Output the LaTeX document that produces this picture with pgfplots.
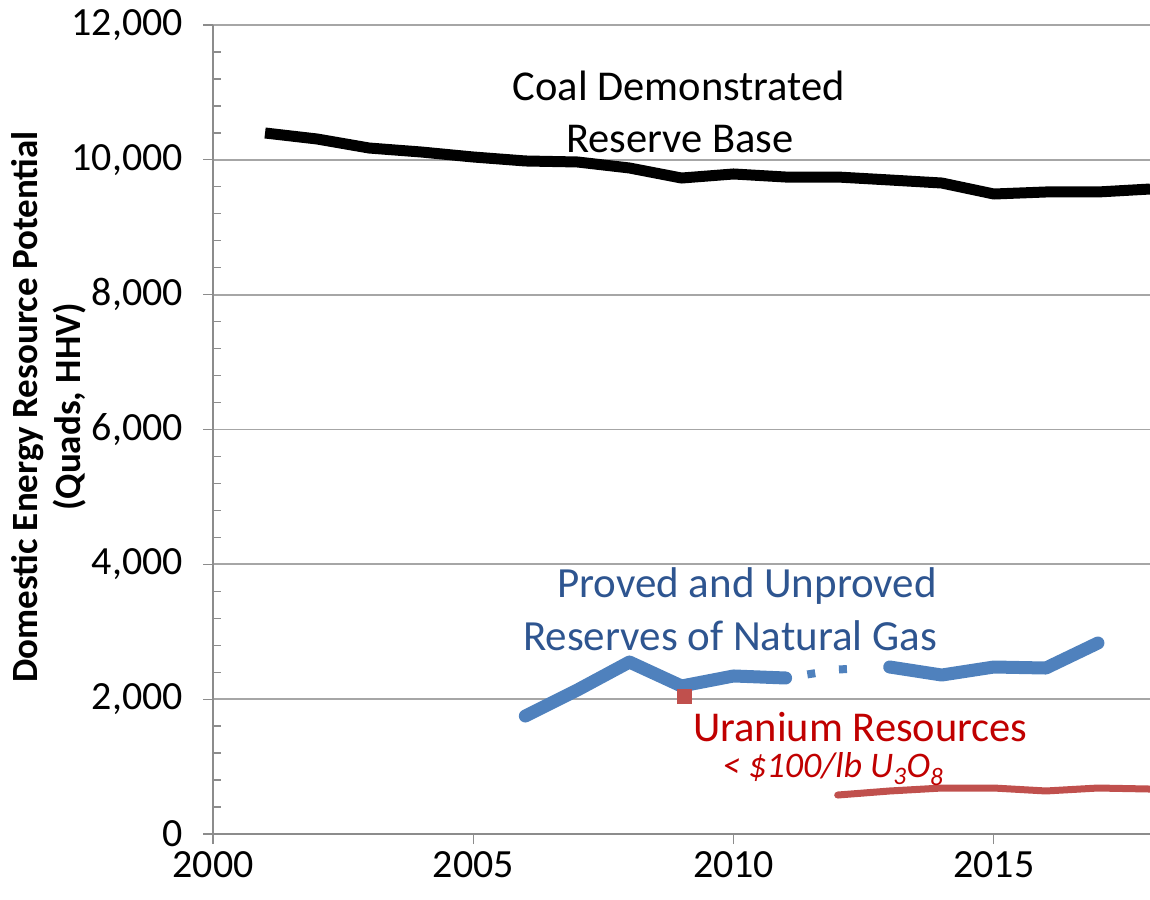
\documentclass[border=0pt]{standalone}
\usepackage{fontspec}
\setmainfont{Carlito}
\usepackage{pgfplots}
\pgfplotsset{compat=1.18}
\definecolor{gasline}{HTML}{4F81BD}
\definecolor{gastext}{HTML}{2E5590}
\definecolor{urline}{HTML}{C0504D}
\definecolor{urtext}{HTML}{C00000}
\definecolor{gridc}{HTML}{A6A6A6}
\definecolor{axc}{HTML}{8C8C8C}
\begin{document}
\begin{tikzpicture}
\begin{axis}[
  at={(0,0)}, anchor=south west,
  scale only axis, width=937pt, height=809pt,
  xmin=2000, xmax=2018, ymin=0, ymax=12000,
  scaled x ticks=false, scaled y ticks=false,
  axis line style={draw=none},
  tick pos=left,
  xtick={2000,2005,2010,2015},
  xticklabels={2000,2005,2010,2015},
  ytick={0,2000,4000,6000,8000,10000,12000},
  yticklabels={0,{2,000},{4,000},{6,000},{8,000},{10,000},{12,000}},
  minor y tick num=4,
  tick align=outside,
  major tick length=10pt, minor tick length=8pt,
  every tick/.style={axc, line width=1.3pt},
  minor y tick style={xshift=8pt},
  ymajorgrids,
  major grid style={gridc, line width=1.8pt},
  /pgf/number format/assume math mode=true,
  ticklabel style={font=\fontsize{40}{44}\selectfont, text=black},
  yticklabel style={inner sep=0pt, xshift=-20pt},
  xticklabel style={inner sep=0pt, yshift=-7pt},
  clip=false,
]
\draw[axc, line width=1.6pt] (axis cs:2000,12000) -- (axis cs:2000,0) -- (axis cs:2018,0);
% Coal demonstrated reserve base
\addplot[black, line width=11pt, line join=round] coordinates {
 (2001,10398) (2002,10309) (2003,10175) (2004,10116) (2005,10042)
 (2006,9983) (2007,9968) (2008,9879) (2009,9730) (2010,9790)
 (2011,9745) (2012,9745) (2013,9701) (2014,9656) (2015,9493)
 (2016,9523) (2017,9523) (2018,9567)};
% Uranium single point 2009
\addplot[only marks, mark=square*, mark size=7pt, mark options={urline, draw=urline}] coordinates {(2009.05,2050)};
% Uranium resources
\addplot[urline, line width=7pt, line cap=round, line join=round] coordinates {
 (2012,578) (2013,638) (2014,682) (2015,682) (2016,638) (2017,682) (2018,667)};
% Natural gas
\addplot[gasline, line width=13pt, line cap=round, line join=round] coordinates {
 (2006,1750) (2007,2136) (2008,2551) (2009,2195) (2010,2344) (2011,2314)};
\addplot[gasline, line width=8pt, line cap=butt, dash pattern={on 0pt off 22pt on 8pt off 24pt on 8pt off 200pt}] coordinates {
 (2011,2314) (2012,2440) (2013,2477)};
\addplot[gasline, line width=13pt, line cap=round, line join=round] coordinates {
 (2013,2477) (2014,2358) (2015,2477) (2016,2462) (2017,2833)};
% Annotations
\node[anchor=base, inner sep=0pt, font=\fontsize{42.5}{48}\selectfont] at (axis cs:2008.95,10887) {Coal Demonstrated};
\node[anchor=base, inner sep=0pt, font=\fontsize{42.5}{48}\selectfont] at (axis cs:2008.97,10116) {Reserve Base};
\node[anchor=base east, inner sep=0pt, text=gastext, font=\fontsize{43}{48}\selectfont] at (axis cs:2013.91,3501) {Proved and Unproved};
\node[anchor=base east, inner sep=0pt, text=gastext, font=\fontsize{43}{48}\selectfont] at (axis cs:2013.91,2729) {Reserves of Natural Gas};
\node[anchor=base west, inner sep=0pt, text=urtext, font=\fontsize{42.5}{48}\selectfont] at (axis cs:2009.22,1365) {Uranium Resources};
\node[anchor=base west, inner sep=0pt, text=urtext, font=\itshape\fontsize{36}{40}\selectfont] at (axis cs:2009.78,845) {< \$100/lb U\textsubscript{3}O\textsubscript{8}};
\end{axis}
\node[rotate=90, anchor=base, inner sep=0pt, font=\bfseries\fontsize{37}{44}\selectfont] at (-175pt,427pt) {Domestic Energy Resource Potential};
\node[rotate=90, anchor=base, inner sep=0pt, font=\bfseries\fontsize{37}{44}\selectfont] at (-132pt,427pt) {(Quads, HHV)};
\pgfresetboundingbox
\path (-213pt,-65pt) rectangle (937pt,834pt);
\end{tikzpicture}
\end{document}
